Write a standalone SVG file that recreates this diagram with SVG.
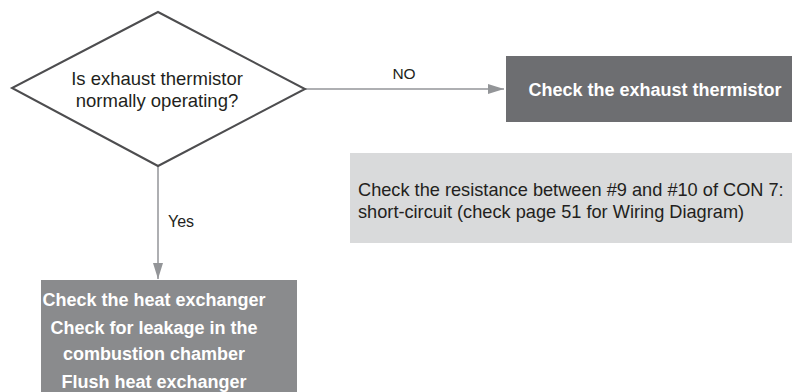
<svg xmlns="http://www.w3.org/2000/svg" width="792" height="392" viewBox="0 0 792 392">
<style>
.t{font-family:"Liberation Sans",Arial,sans-serif;fill:#231f20}
.w{font-family:"Liberation Sans",Arial,sans-serif;fill:#ffffff;font-weight:bold;text-anchor:middle}
.c{stroke:#939598;stroke-width:1.5;fill:none}
</style>
<defs>
<marker id="ahv" viewBox="0 0 16 10" refX="16" refY="5" markerWidth="16" markerHeight="10" markerUnits="userSpaceOnUse" orient="auto">
<path d="M0,0 L16,5 L0,10 Z" fill="#939598"/>
</marker>
</defs>
<rect width="792" height="392" fill="#ffffff"/>
<g id="connectors">
<line class="c" x1="305" y1="89" x2="504" y2="89" marker-end="url(#ahv)"/>
<line class="c" x1="158" y1="166" x2="158" y2="279" marker-end="url(#ahv)"/>
<text class="t" x="404" y="79" font-size="15.5" text-anchor="middle">NO</text>
<text class="t" x="168" y="227" font-size="16">Yes</text>
</g>
<g id="decision">
<polygon points="158,12 305,89 158,166 12,88" fill="#ffffff" stroke="#4d4d4f" stroke-width="2" stroke-linejoin="miter"/>
<text class="t" x="157" y="85" font-size="18.5" text-anchor="middle">Is exhaust thermistor</text>
<text class="t" x="157" y="107" font-size="18.5" text-anchor="middle">normally operating?</text>
</g>
<g id="check-thermistor">
<rect x="506" y="56" width="286" height="66" fill="#6d6e71"/>
<text class="w" x="655" y="96" font-size="18">Check the exhaust thermistor</text>
</g>
<g id="note">
<rect x="350" y="153" width="442" height="90" fill="#d9dadb"/>
<text class="t" x="358" y="196" font-size="18.2">Check the resistance between #9 and #10 of CON 7:</text>
<text class="t" x="358" y="218" font-size="18.2">short-circuit (check page 51 for Wiring Diagram)</text>
</g>
<g id="check-heat-exchanger">
<rect x="41" y="280" width="256" height="112" fill="#8a8b8d"/>
<text class="w" x="154" y="306" font-size="18">Check the heat exchanger</text>
<text class="w" x="154" y="334" font-size="18">Check for leakage in the</text>
<text class="w" x="154" y="360" font-size="18">combustion chamber</text>
<text class="w" x="154" y="388" font-size="18">Flush heat exchanger</text>
</g>
</svg>
